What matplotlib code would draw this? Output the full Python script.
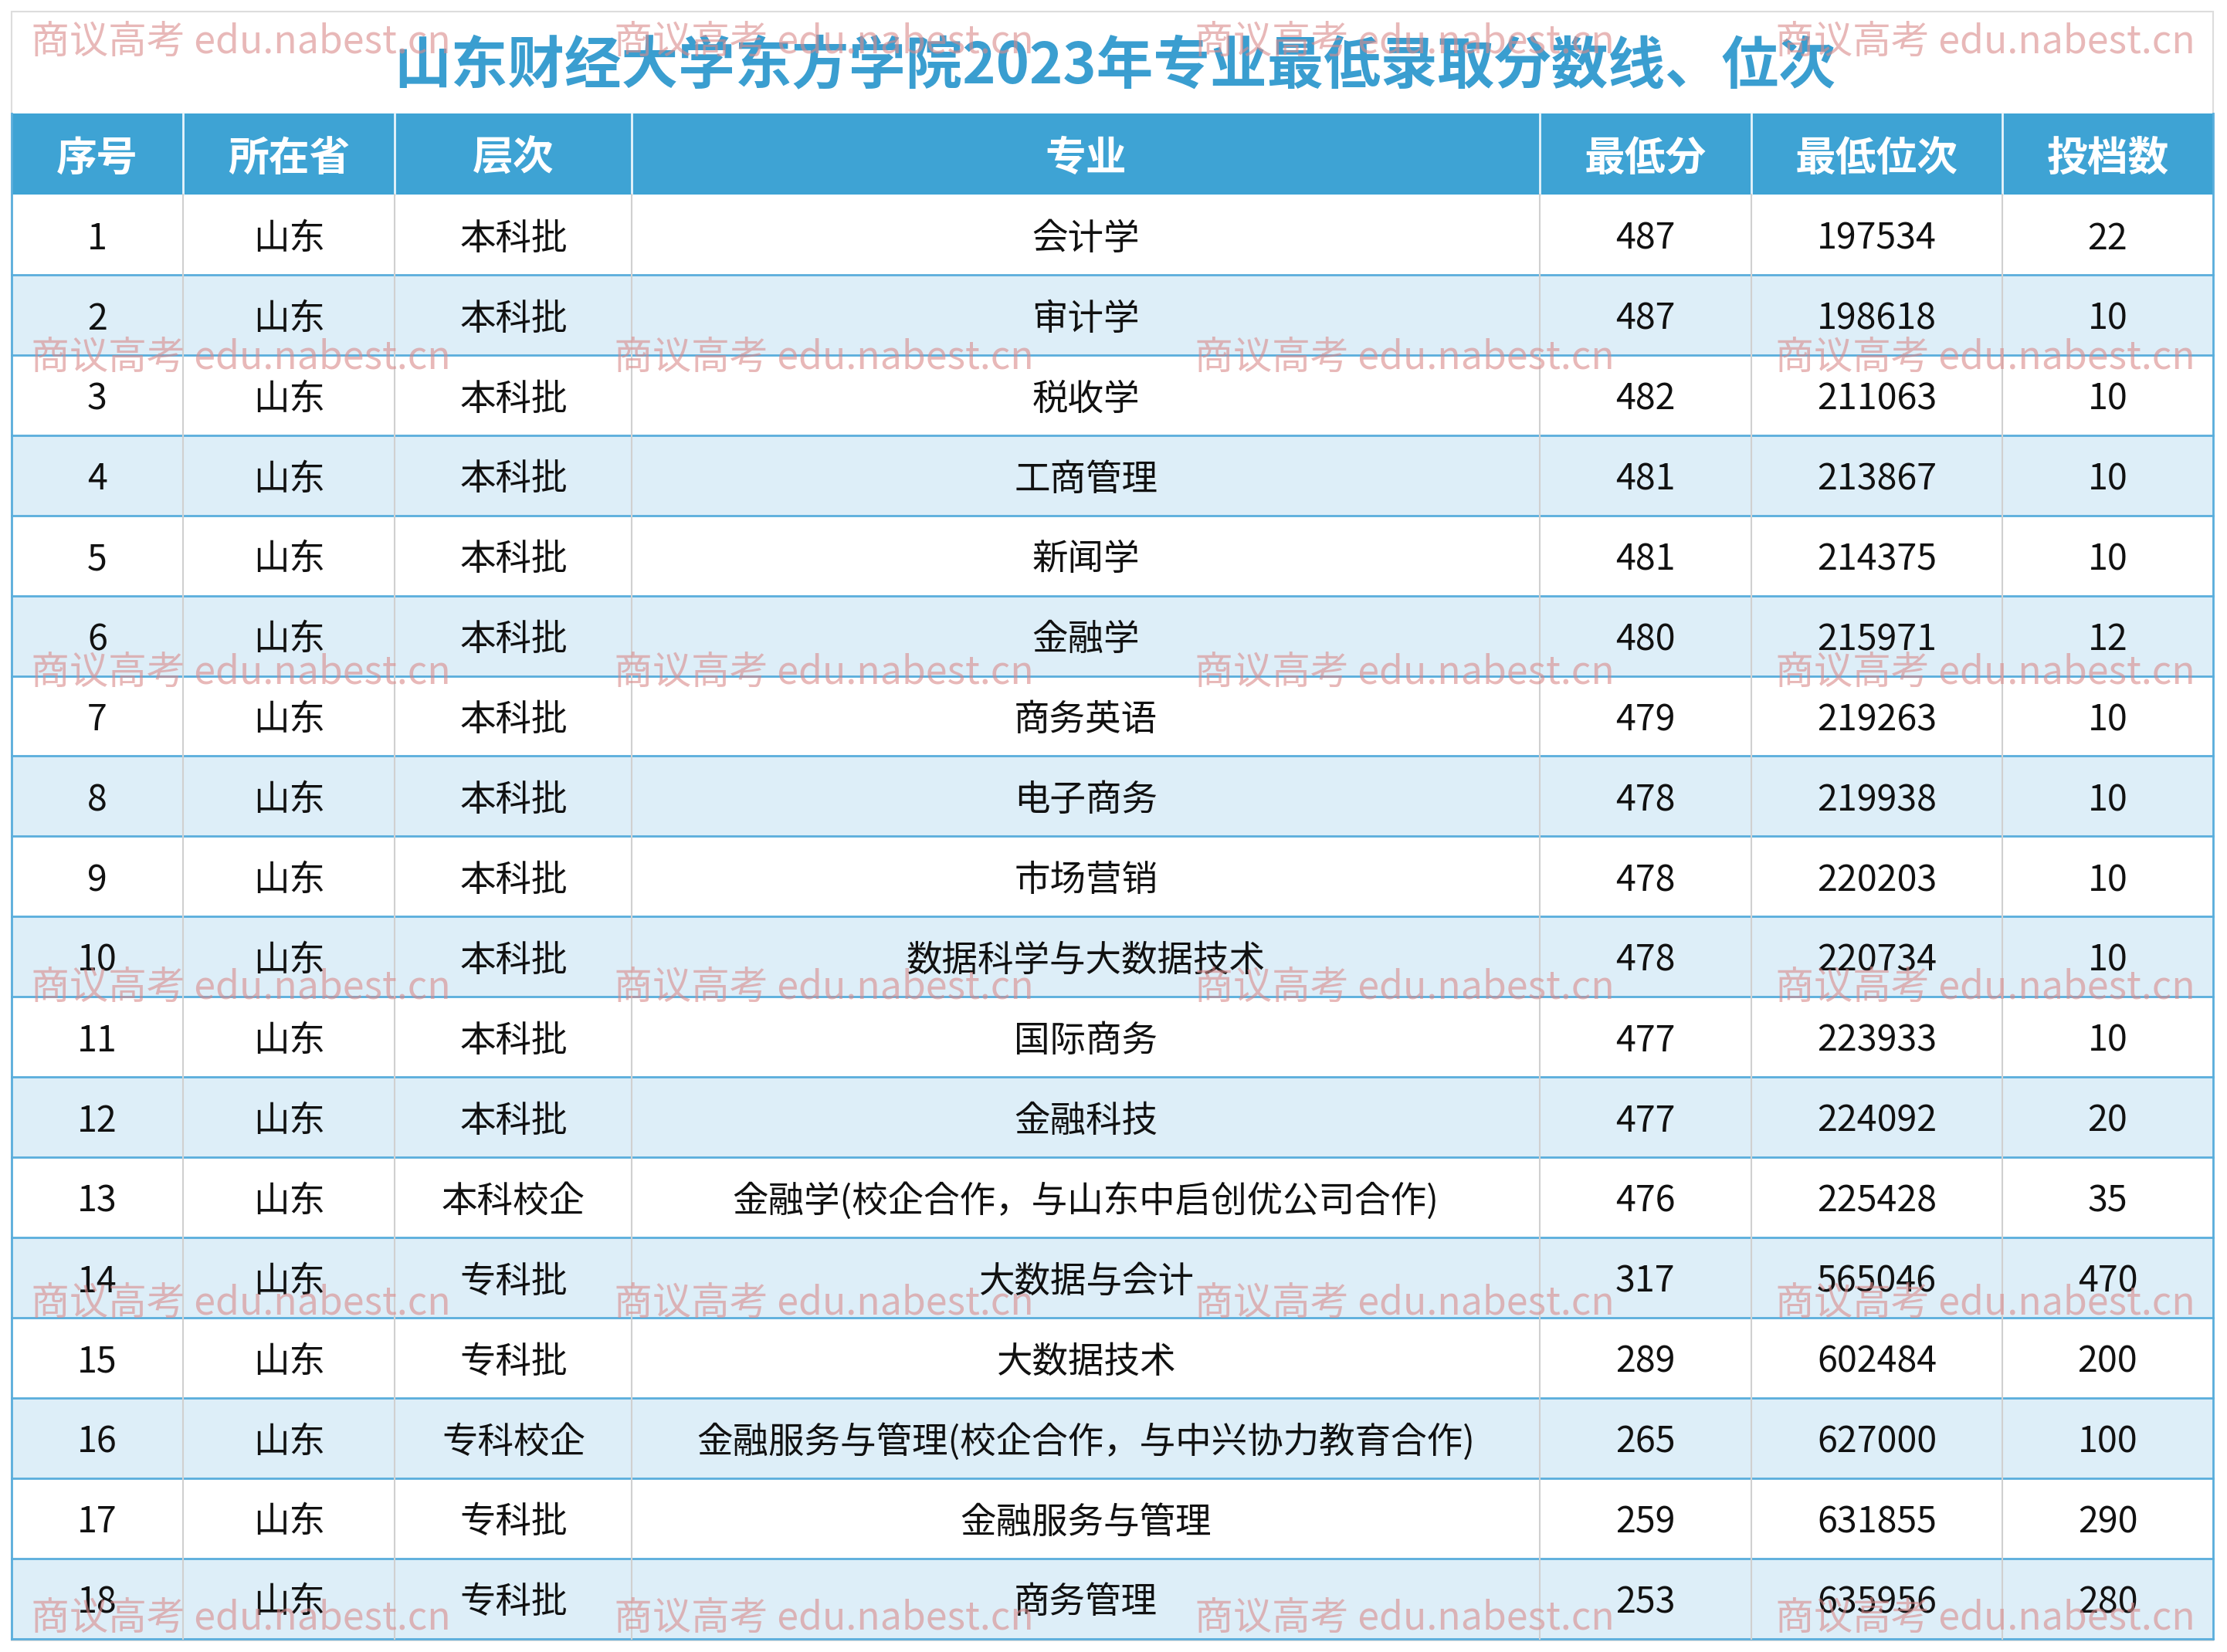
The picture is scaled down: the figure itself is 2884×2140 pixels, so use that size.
import matplotlib
matplotlib.use("Agg")
import matplotlib.pyplot as plt
from matplotlib.patches import Rectangle
from matplotlib import font_manager as fm

cjk = None
for f in fm.fontManager.ttflist:
    if "CJK" in f.name and ("SC" in f.name or cjk is None):
        cjk = f.name
        if "SC" in f.name:
            break
plt.rcParams["font.family"] = [cjk or "Noto Sans CJK SC", "DejaVu Sans"]

title = "山东财经大学东方学院2023年专业最低录取分数线、位次"
headers = ["序号", "所在省", "层次", "专业", "最低分", "最低位次", "投档数"]
levels = ["本科批"]*12 + ["本科校企", "专科批", "专科批", "专科校企", "专科批", "专科批"]
majors = ["会计学", "审计学", "税收学", "工商管理", "新闻学", "金融学", "商务英语", "电子商务",
          "市场营销", "数据科学与大数据技术", "国际商务", "金融科技",
          "金融学(校企合作，与山东中启创优公司合作)", "大数据与会计", "大数据技术",
          "金融服务与管理(校企合作，与中兴协力教育合作)", "金融服务与管理", "商务管理"]
min_score = [487, 487, 482, 481, 481, 480, 479, 478, 478, 478, 477, 477, 476, 317, 289, 265, 259, 253]
min_rank = [197534, 198618, 211063, 213867, 214375, 215971, 219263, 219938, 220203, 220734,
            223933, 224092, 225428, 565046, 602484, 627000, 631855, 635956]
quota = [22, 10, 10, 10, 10, 12, 10, 10, 10, 10, 10, 20, 35, 470, 200, 100, 290, 280]

S = 2884 / 1568
W, H = 2884, 2140
fig = plt.figure(figsize=(W/100, H/100), dpi=100)
ax = fig.add_axes([0, 0, 1, 1])
ax.set_xlim(0, W); ax.set_ylim(H, 0); ax.axis("off")

cols = [8, 129, 278, 445, 1084, 1233, 1410, 1558]
cols = [c*S for c in cols]
htop, hbot = 80*S, 137*S
rowh = (1154 - 137)/18*S
dy = 3*S
blue = "#3ea3d4"
ax.add_patch(Rectangle((cols[0], 8*S), cols[-1]-cols[0], H-16*S, fc="white", ec="#dddddd", lw=1.5))
ax.text(785*S, 47*S, title, ha="center", va="center", fontsize=53, fontweight="bold", color="#3a9ed0")
ax.add_patch(Rectangle((cols[0], htop), cols[-1]-cols[0], hbot-htop, fc=blue, ec="none"))
for i, h in enumerate(headers):
    ax.text((cols[i]+cols[i+1])/2, (htop+hbot)/2+dy, h, ha="center", va="center",
            fontsize=38, fontweight="bold", color="white")
n = len(majors)
for r in range(n):
    y0 = hbot + r*rowh
    if r % 2 == 1:
        ax.add_patch(Rectangle((cols[0], y0), cols[-1]-cols[0], rowh, fc="#ddeef8", ec="none"))
    vals = [str(r+1), "山东", levels[r], majors[r], str(min_score[r]), str(min_rank[r]), str(quota[r])]
    for i, v in enumerate(vals):
        ax.text((cols[i]+cols[i+1])/2, y0+rowh/2+dy, v, ha="center", va="center", fontsize=33.5, color="#111111")
    ax.plot([cols[0], cols[-1]], [y0+rowh, y0+rowh], color="#5aaedc", lw=2)
for c in cols[1:-1]:
    ax.plot([c, c], [htop, hbot], color="#e8f4fb", lw=2)
    ax.plot([c, c], [hbot, hbot+n*rowh], color="#d0d0d0", lw=1.5)
for c in [cols[0], cols[-1]]:
    ax.plot([c, c], [htop, hbot+n*rowh], color="#5aaedc", lw=2)

for wy in [28, 250, 472, 694, 916, 1138]:
    for wx in [22, 432, 841, 1250]:
        ax.text(wx*S, (wy+2)*S, "商议高考 edu.nabest.cn", ha="left", va="center", fontsize=36,
                color="#d98a8a", alpha=0.6)
fig.savefig("out.png", dpi=100)
